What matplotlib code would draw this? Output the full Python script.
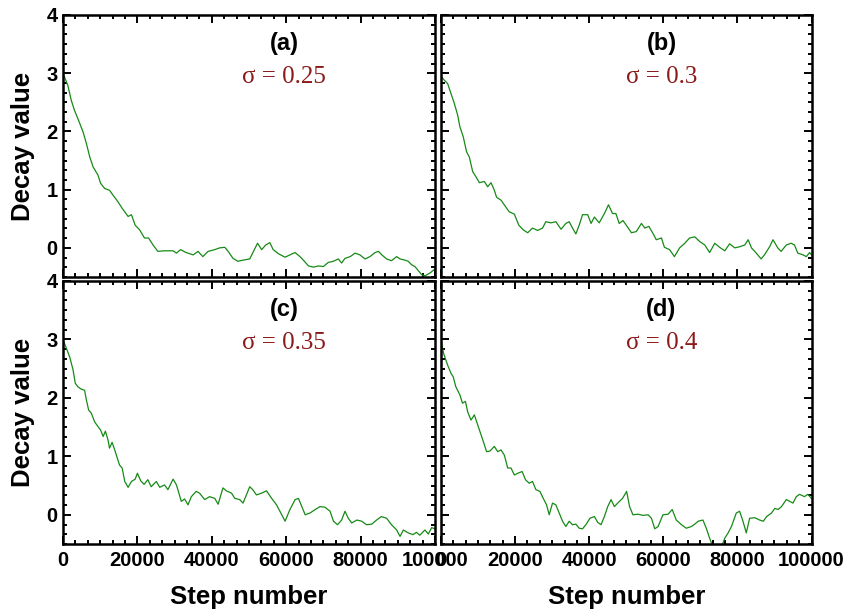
import matplotlib
matplotlib.use("Agg")
import matplotlib.pyplot as plt
from matplotlib.ticker import MultipleLocator, AutoMinorLocator

# decay traces, one per noise level
steps_a = [0, 1300, 2240, 3100, 4000, 5400, 6300, 7200, 8100, 9400, 10100, 11200, 12500, 13400,
           14800, 15900, 16600, 17500, 18400, 19400, 20600, 21900, 23000, 24200, 25500, 27300,
           29600, 30500, 31600, 33100, 35000, 36300, 37600, 39000, 40800, 42100, 43500, 44400,
           45700, 47000, 48400, 50200, 51200, 52300, 53400, 54500, 55600, 56500, 57900, 59700,
           61000, 62400, 63700, 64600, 66000, 67300, 68700, 70000, 71300, 72700, 74000, 74900,
           75800, 77200, 78500, 79800, 81200, 82500, 83900, 84800, 85700, 87000, 88300, 89700,
           90600, 91900, 92800, 93700, 94600, 95500, 96400, 97300, 98700, 100000]
decay_a = [3.0, 2.79, 2.53, 2.36, 2.22, 1.99, 1.79, 1.56, 1.39, 1.25, 1.11, 1.02, 0.99, 0.91,
           0.79, 0.68, 0.62, 0.54, 0.57, 0.39, 0.31, 0.17, 0.17, 0.05, -0.06, -0.05,
           -0.05, -0.09, -0.03, -0.08, -0.12, -0.06, -0.15, -0.06, -0.03, 0.0, 0.01, -0.06,
           -0.18, -0.23, -0.21, -0.19, -0.06, 0.08, -0.03, 0.05, 0.09, -0.03, -0.10, -0.16,
           -0.12, -0.08, -0.15, -0.21, -0.31, -0.33, -0.31, -0.32, -0.25, -0.23, -0.19, -0.26,
           -0.18, -0.15, -0.09, -0.12, -0.19, -0.15, -0.08, -0.06, -0.12, -0.19, -0.22, -0.15,
           -0.19, -0.21, -0.23, -0.29, -0.32, -0.39, -0.46, -0.48, -0.43, -0.36]

steps_b = [0, 270, 900, 1800, 2700, 3600, 4500, 5100, 6000, 6900, 7650, 8550, 9450, 10350,
           11700, 12600, 13500, 14400, 15000, 16200, 17400, 18400, 19800, 21000, 22200, 23400,
           24700, 26100, 27400, 28300, 29700, 31000, 32400, 33700, 34600, 35500, 36400, 37300,
           38200, 39600, 40500, 41400, 42700, 44100, 45200, 46300, 47200, 48100, 49100, 50000,
           51400, 52700, 54100, 55000, 56100, 57200, 58100, 59500, 60300, 61700, 63000, 64400,
           65800, 67100, 68500, 69800, 71200, 72500, 73900, 75200, 76600, 77900, 79300, 80600,
           82000, 82900, 83800, 85100, 86400, 87300, 88700, 89600, 90900, 91800, 93200, 94500,
           95400, 96300, 97700, 98600, 99500, 100000]
decay_b = [2.95, 2.93, 2.88, 2.82, 2.65, 2.48, 2.28, 2.08, 1.91, 1.65, 1.56, 1.31, 1.22, 1.12,
           1.14, 1.05, 1.12, 0.99, 0.87, 0.82, 0.71, 0.62, 0.58, 0.39, 0.31, 0.26,
           0.34, 0.30, 0.34, 0.45, 0.43, 0.45, 0.32, 0.42, 0.45, 0.34, 0.24, 0.39,
           0.57, 0.57, 0.42, 0.53, 0.43, 0.59, 0.74, 0.59, 0.59, 0.42, 0.47, 0.39,
           0.26, 0.28, 0.42, 0.34, 0.37, 0.25, 0.14, 0.17, 0.01, -0.03, -0.15, 0.0,
           0.08, 0.17, 0.19, 0.11, 0.05, -0.08, 0.08, 0.01, -0.05, 0.07, 0.0, 0.02,
           0.05, 0.14, 0.0, -0.09, -0.19, -0.12, 0.02, 0.14, 0.0, -0.06, 0.05, 0.08,
           0.05, -0.09, -0.12, -0.15, -0.08, -0.12]

steps_c = [0, 600, 1800, 2700, 3300, 4000, 4900, 5800, 6300, 6900, 7600, 8500, 9400, 10100,
           10800, 11400, 12100, 12500, 13200, 13900, 14600, 15200, 15900, 16600, 17500, 18400,
           19400, 20000, 20900, 21800, 22800, 23700, 25100, 26000, 27300, 28200, 29600, 30500,
           31800, 32700, 33600, 34500, 35800, 36700, 38100, 39400, 40800, 41700, 43000, 43900,
           45300, 46200, 47500, 48400, 49300, 50200, 51000, 52000, 53400, 54700, 56100, 57400,
           58800, 59700, 61000, 62400, 63300, 64200, 65100, 66400, 67800, 69100, 70400, 71800,
           72700, 73800, 74900, 75800, 76700, 77600, 79000, 80300, 81600, 83000, 84300, 85600,
           87000, 88300, 89700, 90600, 91500, 92800, 94100, 95000, 95900, 97300, 98200, 99100,
           100000]
decay_c = [2.99, 2.90, 2.70, 2.48, 2.25, 2.19, 2.15, 2.13, 1.96, 1.79, 1.74, 1.59, 1.51, 1.45,
           1.34, 1.43, 1.28, 1.14, 1.24, 1.11, 0.97, 0.85, 0.80, 0.57, 0.47, 0.57,
           0.61, 0.71, 0.58, 0.52, 0.60, 0.48, 0.57, 0.47, 0.51, 0.43, 0.61, 0.51,
           0.23, 0.27, 0.17, 0.31, 0.40, 0.37, 0.26, 0.31, 0.28, 0.18, 0.46, 0.41,
           0.37, 0.28, 0.26, 0.20, 0.34, 0.48, 0.43, 0.34, 0.37, 0.41, 0.28, 0.17,
           0.0, -0.11, 0.09, 0.26, 0.28, 0.14, 0.0, 0.03, 0.09, 0.14, 0.13, 0.06,
           -0.11, -0.17, -0.09, 0.06, -0.06, -0.14, -0.09, -0.11, -0.17, -0.16, -0.09, -0.03,
           -0.06, -0.17, -0.26, -0.37, -0.26, -0.31, -0.34, -0.30, -0.35, -0.26, -0.33, -0.22,
           -0.24]

steps_d = [0, 700, 1800, 2700, 3300, 4000, 5100, 5800, 6600, 7200, 8100, 9000, 9900, 10800,
           11700, 12300, 13200, 14400, 15300, 16200, 17100, 18000, 18900, 19800, 20700, 21900,
           22800, 23800, 24700, 25600, 26700, 27600, 28500, 29200, 30100, 31000, 31900, 32800,
           33700, 34600, 35500, 36400, 37300, 38200, 39100, 40200, 41400, 42300, 43200, 44100,
           45000, 45900, 46800, 47700, 49000, 50100, 50900, 51800, 53200, 54500, 55900, 56800,
           57700, 58600, 59900, 61300, 62400, 63500, 64900, 66200, 67600, 68500, 69400, 70700,
           71600, 72500, 73400, 74300, 75200, 76000, 76600, 77500, 78400, 79700, 80600, 81500,
           82400, 83300, 84700, 86000, 87000, 87900, 89200, 90100, 91000, 91900, 93200, 94100,
           95000, 95900, 96800, 98100, 99000, 100000]
decay_d = [2.99, 2.76, 2.56, 2.42, 2.36, 2.19, 2.05, 1.91, 1.94, 1.76, 1.62, 1.71, 1.54, 1.37,
           1.20, 1.08, 1.09, 1.17, 1.08, 1.11, 1.02, 0.80, 0.80, 0.68, 0.71, 0.74,
           0.60, 0.54, 0.57, 0.43, 0.40, 0.28, 0.17, 0.0, 0.20, 0.17, 0.03, -0.11,
           -0.20, -0.11, -0.17, -0.16, -0.23, -0.24, -0.17, -0.06, -0.03, -0.13, -0.17, -0.03,
           0.14, 0.26, 0.14, 0.20, 0.28, 0.40, 0.14, 0.0, 0.01, -0.01, 0.0, -0.06,
           -0.24, -0.20, 0.0, 0.01, 0.09, -0.09, -0.17, -0.23, -0.20, -0.16, -0.11, -0.09,
           -0.23, -0.40, -0.55, -0.62, -0.60, -0.50, -0.40, -0.31, -0.20, 0.03, 0.06, -0.11,
           -0.31, -0.06, -0.05, -0.09, -0.11, -0.03, 0.03, 0.11, 0.09, 0.14, 0.26, 0.23,
           0.20, 0.31, 0.35, 0.31, 0.35, 0.28]

panel_tags = ["(a)", "(b)", "(c)", "(d)"]
sigmas = ["0.25", "0.3", "0.35", "0.4"]

series = [(steps_a, decay_a), (steps_b, decay_b), (steps_c, decay_c), (steps_d, decay_d)]

W, H = 844, 614
fig = plt.figure(figsize=(W / 100, H / 100), dpi=100)

# panel rectangles in pixels: left, top, right, bottom
boxes = [(63, 15, 435, 277), (441, 15, 811.5, 277),
         (63, 281, 435, 544), (441, 281, 811.5, 544)]

line_col = "#168a16"
sigma_col = "#8b1a1a"

for i, ((x0, y0, x1, y1), (xs, ys)) in enumerate(zip(boxes, series)):
    ax = fig.add_axes([x0 / W, 1 - y1 / H, (x1 - x0) / W, (y1 - y0) / H])
    ax.plot(xs, ys, color=line_col, lw=0.9)
    ax.set_xlim(0, 100000)
    ax.set_ylim(-0.5, 4)

    ax.xaxis.set_major_locator(MultipleLocator(20000))
    ax.xaxis.set_minor_locator(AutoMinorLocator(6))
    ax.yaxis.set_major_locator(MultipleLocator(1))
    ax.yaxis.set_minor_locator(AutoMinorLocator(6))
    ax.tick_params(which="both", direction="in", top=True, right=True, width=1.4)
    ax.tick_params(which="major", length=5.5)
    ax.tick_params(which="minor", length=3)
    ax.tick_params(axis="x", pad=5)
    ax.tick_params(axis="y", pad=4)
    for lab in ax.get_xticklabels() + ax.get_yticklabels():
        lab.set_fontweight("bold")
        lab.set_fontsize(14.5)
        lab.set_family("Liberation Sans")
    for s in ax.spines.values():
        s.set_linewidth(1.8)

    if i % 2 == 1:
        ax.tick_params(axis="y", labelleft=False)
    else:
        ax.set_ylabel("Decay value", fontsize=18.5, fontweight="bold",
                      family="Liberation Sans", labelpad=8)
    if i < 2:
        ax.tick_params(axis="x", labelbottom=False)
    else:
        ax.set_xlabel("Step number", fontsize=18.5, fontweight="bold",
                      family="Liberation Sans", labelpad=11)

    ax.text(0.595, 0.893, panel_tags[i], transform=ax.transAxes, ha="center", va="center",
            fontsize=17, fontweight="bold", family="Liberation Sans")
    ax.text(0.595, 0.763, "\u03c3 = " + sigmas[i], transform=ax.transAxes, ha="center",
            va="center", fontsize=18, color=sigma_col, family="Liberation Serif")

fig.savefig("out.png", dpi=100)
